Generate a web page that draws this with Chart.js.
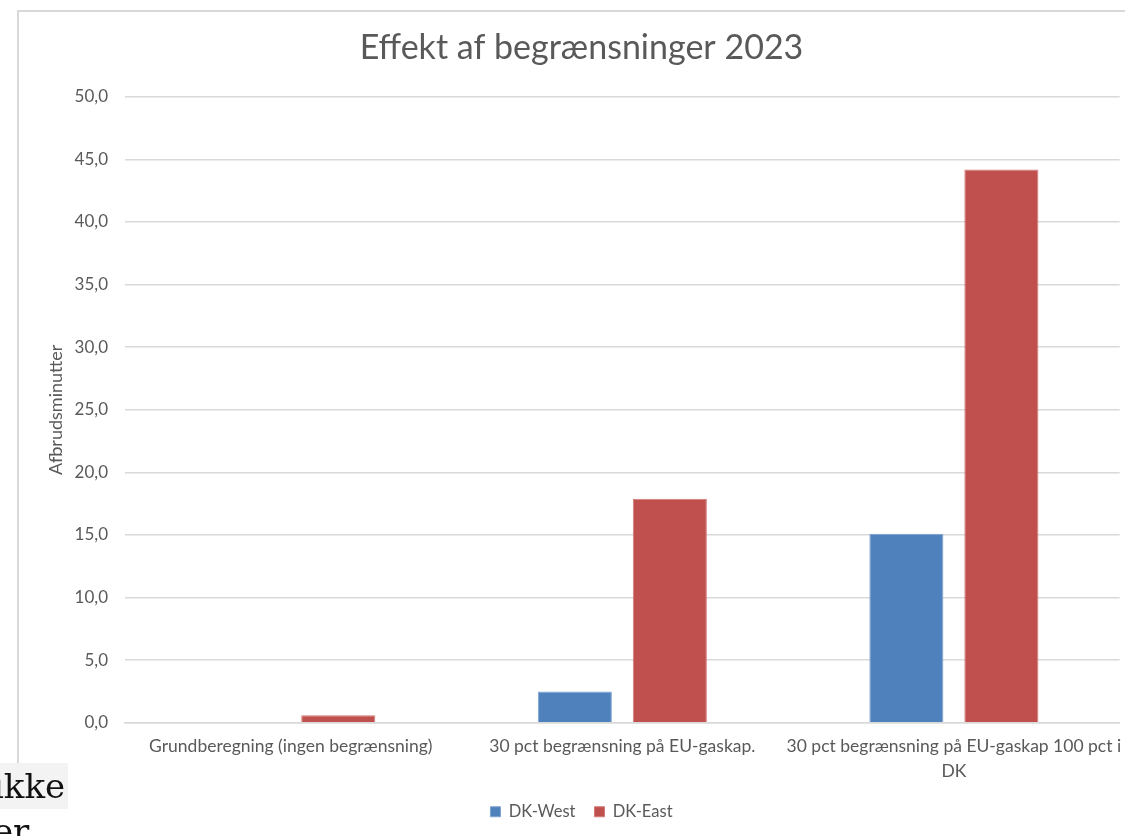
<!DOCTYPE html>
<html>
<head>
<meta charset="utf-8">
<script src="https://cdn.jsdelivr.net/npm/chart.js@4.4.0/dist/chart.umd.min.js"></script>
<style>
  html, body { margin: 0; padding: 0; background: #fff; }
  #wrap { position: relative; width: 1125px; height: 836px; overflow: hidden; }
  #frame {
    position: absolute; left: 17px; top: 10px; width: 1120px; height: 753px;
    border-top: 2px solid #d9d9d9; border-left: 2px solid #d9d9d9;
  }
  #box { position: absolute; left: 0; top: 0; width: 1125px; height: 836px; }
  #doc {
    position: absolute; left: 0; top: 763px; width: 68px; height: 46px;
    background: #f3f3f3;
  }
  .docText {
    position: absolute; left: -7px; font-family: "DejaVu Serif", "Liberation Serif", serif;
    font-size: 34px; color: #111;
  }
</style>
</head>
<body>
<div id="wrap">
  <div id="frame"></div>
  <div id="box"><canvas id="chart"></canvas></div>
  <div id="doc"></div>
  <div class="docText" style="top:766px;">ikke</div>
  <div class="docText" style="top:811px;">er</div>
</div>
<script>
const categories = [
    'Grundberegning (ingen begrænsning)',
    '30 pct begrænsning på EU-gaskap.',
    ['30 pct begrænsning på EU-gaskap 100 pct i', 'DK']
];
const dkWest = [0, 2.5, 15.1];
const dkEast = [0.6, 17.9, 44.2];
const yTickLabels = ['0,0', '5,0', '10,0', '15,0', '20,0', '25,0', '30,0', '35,0', '40,0', '45,0', '50,0'];

const textColor = '#595959';
const fontFamily = 'Lato, "Open Sans", sans-serif';

const ctx = document.getElementById('chart');

new Chart(ctx, {
    type: 'bar',
    data: {
        labels: categories,
        datasets: [{
            label: 'DK-West',
            data: dkWest,
            backgroundColor: '#4F81BD',
            borderColor: '#7fa3cf',
            borderWidth: 1,
            barPercentage: 0.78,
            categoryPercentage: 0.573
        }, {
            label: 'DK-East',
            data: dkEast,
            backgroundColor: '#C0504D',
            borderColor: '#d27c79',
            borderWidth: 1,
            barPercentage: 0.78,
            categoryPercentage: 0.573
        }]
    },
    options: {
        responsive: true,
        maintainAspectRatio: false,
        animation: false,
        layout: {
            padding: { left: 43, right: 5, top: 20, bottom: 6 }
        },
        scales: {
            x: {
                afterFit: (scale) => { scale.height = scale.height - 3; },
                grid: { display: false },
                border: { display: true, color: '#d9d9d9', width: 1.5 },
                ticks: {
                    color: textColor,
                    font: { family: fontFamily, size: 17.5, lineHeight: 1.45 },
                    padding: 3,
                    maxRotation: 0,
                    autoSkip: false
                }
            },
            y: {
                min: 0,
                max: 50,
                afterFit: (scale) => { scale.width = 82; },
                grid: { color: '#d9d9d9', lineWidth: 1.5, drawTicks: false },
                border: { display: false },
                ticks: {
                    stepSize: 5,
                    padding: 17,
                    color: textColor,
                    font: { family: fontFamily, size: 17 },
                    callback: (value, index) => yTickLabels[index]
                },
                title: {
                    display: true,
                    text: 'Afbrudsminutter',
                    color: textColor,
                    font: { family: fontFamily, size: 18 },
                    padding: { top: 2, bottom: 4 }
                }
            }
        },
        plugins: {
            title: {
                display: true,
                text: 'Effekt af begrænsninger 2023',
                color: textColor,
                font: { family: fontFamily, size: 34, weight: 'normal' },
                padding: { top: 8, bottom: 28 }
            },
            legend: {
                display: true,
                position: 'bottom',
                labels: {
                    color: textColor,
                    boxWidth: 10,
                    boxHeight: 10,
                    padding: 19,
                    font: { family: fontFamily, size: 16.5 }
                }
            },
            tooltip: { enabled: false }
        }
    }
});
</script>
</body>
</html>
